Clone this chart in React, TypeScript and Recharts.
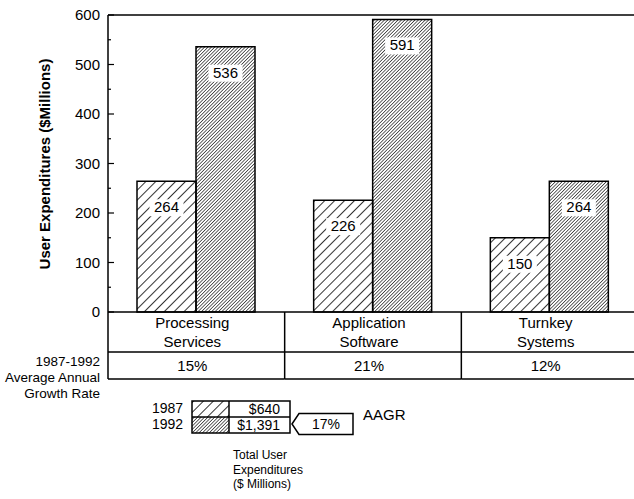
import { BarChart, Bar, XAxis, YAxis, ReferenceLine, LabelList } from 'recharts'

const categories = ['Processing Services', 'Application Software', 'Turnkey Systems']
const values1987 = [264, 226, 150]
const values1992 = [536, 591, 264]
const growthRates = ['15%', '21%', '12%']
const yTicks = [0, 50, 100, 150, 200, 250, 300, 350, 400, 450, 500, 550, 600]
const legendYears = ['1987', '1992']
const legendTotals = ['$640', '$1,391']
const totalAagr = '17%'
const growthLabel = ['1987-1992', 'Average Annual', 'Growth Rate']
const totalLabel = ['Total User', 'Expenditures', '($ Millions)']

const data = categories.map((name, i) => ({
  name,
  rate: growthRates[i],
  y1987: values1987[i],
  y1992: values1992[i],
}))

const FONT = '"Liberation Sans", Arial, Helvetica, sans-serif'

const YTick = (props: any) => {
  const { x, y, payload } = props
  const major = payload.value % 100 === 0
  return (
    <g>
      <line x1={x} x2={x + (major ? 6 : 3)} y1={y} y2={y} stroke="#000" strokeWidth={1.2} />
      {major && (
        <text x={x - 8} y={y + 5} textAnchor="end" fontSize={15} fontFamily={FONT} fill="#000">
          {payload.value}
        </text>
      )}
    </g>
  )
}

const XTick = (props: any) => {
  const { x, y, payload, index } = props
  const off = payload.offset ?? 88
  const lines = String(payload.value).split(' ')
  return (
    <g fontFamily={FONT} fill="#000">
      <line x1={x - off} x2={x - off} y1={y} y2={y + 67} stroke="#000" strokeWidth={1.5} />
      <line x1={x - off} x2={x + off} y1={y + 40} y2={y + 40} stroke="#000" strokeWidth={1.5} />
      <line x1={x - off} x2={x + off} y1={y + 67} y2={y + 67} stroke="#000" strokeWidth={1.5} />
      {lines.map((l, i) => (
        <text key={i} x={x - 4} y={y + 16 + i * 19} textAnchor="middle" fontSize={15}>
          {l}
        </text>
      ))}
      <text x={x - 4} y={y + 59} textAnchor="middle" fontSize={15}>
        {growthRates[index]}
      </text>
    </g>
  )
}

const ValueLabel = (props: any) => {
  const { x, y, width, value } = props
  const cx = x + width / 2
  return (
    <g>
      <rect x={cx - 17} y={y + 18} width={34} height={17} fill="#fff" />
      <text x={cx} y={y + 31} textAnchor="middle" fontSize={15} fontFamily={FONT} fill="#000">
        {value}
      </text>
    </g>
  )
}

export default function App() {
  return (
    <div
      style={{
        position: 'absolute',
        left: 0,
        top: 0,
        width: 634,
        height: 499,
        overflow: 'hidden',
        background: '#fff',
      }}
    >
      <svg width={0} height={0} style={{ position: 'absolute' }}>
        <defs>
          <pattern id="hatch1987" patternUnits="userSpaceOnUse" width={7} height={7} patternTransform="rotate(45)">
            <line x1={0} y1={0} x2={0} y2={7} stroke="#000" strokeWidth={1.6} />
          </pattern>
          <pattern id="hatch1992" patternUnits="userSpaceOnUse" width={2.4} height={2.4} patternTransform="rotate(45)">
            <line x1={0} y1={0} x2={0} y2={2.4} stroke="#000" strokeWidth={1.2} />
          </pattern>
        </defs>
      </svg>

      <BarChart
        width={640}
        height={499}
        data={data}
        margin={{ top: 15, right: 2, left: 0, bottom: 0 }}
        barGap={0}
      >
        <ReferenceLine y={600} stroke="#000" strokeWidth={1.5} ifOverflow="visible" />
        <XAxis
          dataKey="name"
          height={187}
          axisLine={{ stroke: '#000', strokeWidth: 1.5 }}
          tickLine={false}
          tickSize={0}
          tickMargin={0}
          interval={0}
          tick={<XTick />}
        />
        <YAxis
          width={108}
          domain={[0, 600]}
          ticks={yTicks}
          interval={0}
          axisLine={{ stroke: '#000', strokeWidth: 1.5 }}
          tickLine={false}
          tickSize={0}
          tickMargin={0}
          tick={<YTick />}
        />
        <Bar dataKey="y1987" fill="url(#hatch1987)" stroke="#000" strokeWidth={1.5} barSize={59} isAnimationActive={false}>
          <LabelList dataKey="y1987" content={<ValueLabel />} />
        </Bar>
        <Bar dataKey="y1992" fill="url(#hatch1992)" stroke="#000" strokeWidth={1.5} barSize={59} isAnimationActive={false}>
          <LabelList dataKey="y1992" content={<ValueLabel />} />
        </Bar>
      </BarChart>

      <svg
        width={634}
        height={499}
        style={{ position: 'absolute', left: 0, top: 0, pointerEvents: 'none' }}
        fontFamily={FONT}
      >
        <text
          transform="translate(50,164) rotate(-90)"
          textAnchor="middle"
          fontSize={15}
          fontWeight="bold"
          fill="#000"
        >
          User Expenditures ($Millions)
        </text>

        {growthLabel.map((l, i) => (
          <text key={l} x={100} y={366 + i * 16} textAnchor="end" fontSize={13.5} fill="#000">
            {l}
          </text>
        ))}

        {legendYears.map((yr, i) => (
          <text key={yr} x={152} y={413 + i * 16} fontSize={14} fill="#000">
            {yr}
          </text>
        ))}
        <rect x={192} y={401} width={37} height={16} fill="url(#hatch1987)" />
        <rect x={192} y={417} width={37} height={16} fill="url(#hatch1992)" />
        <rect x={192} y={401} width={98} height={32} fill="none" stroke="#000" strokeWidth={1.5} />
        <line x1={192} x2={290} y1={417} y2={417} stroke="#000" strokeWidth={1.5} />
        <line x1={229} x2={229} y1={401} y2={433} stroke="#000" strokeWidth={1.5} />
        {legendTotals.map((t, i) => (
          <text key={t} x={280} y={413.5 + i * 16} textAnchor="end" fontSize={14} fill="#000">
            {t}
          </text>
        ))}

        <polygon
          points="292,424 299,413.5 353,413.5 353,434.5 299,434.5"
          fill="#fff"
          stroke="#000"
          strokeWidth={1.5}
        />
        <text x={326} y={429} textAnchor="middle" fontSize={14} fill="#000">
          {totalAagr}
        </text>
        <text x={363} y={420} fontSize={15} fill="#000">
          AAGR
        </text>

        {totalLabel.map((l, i) => (
          <text key={l} x={233} y={459 + i * 14.5} fontSize={12} fill="#000">
            {l}
          </text>
        ))}
      </svg>
    </div>
  )
}
